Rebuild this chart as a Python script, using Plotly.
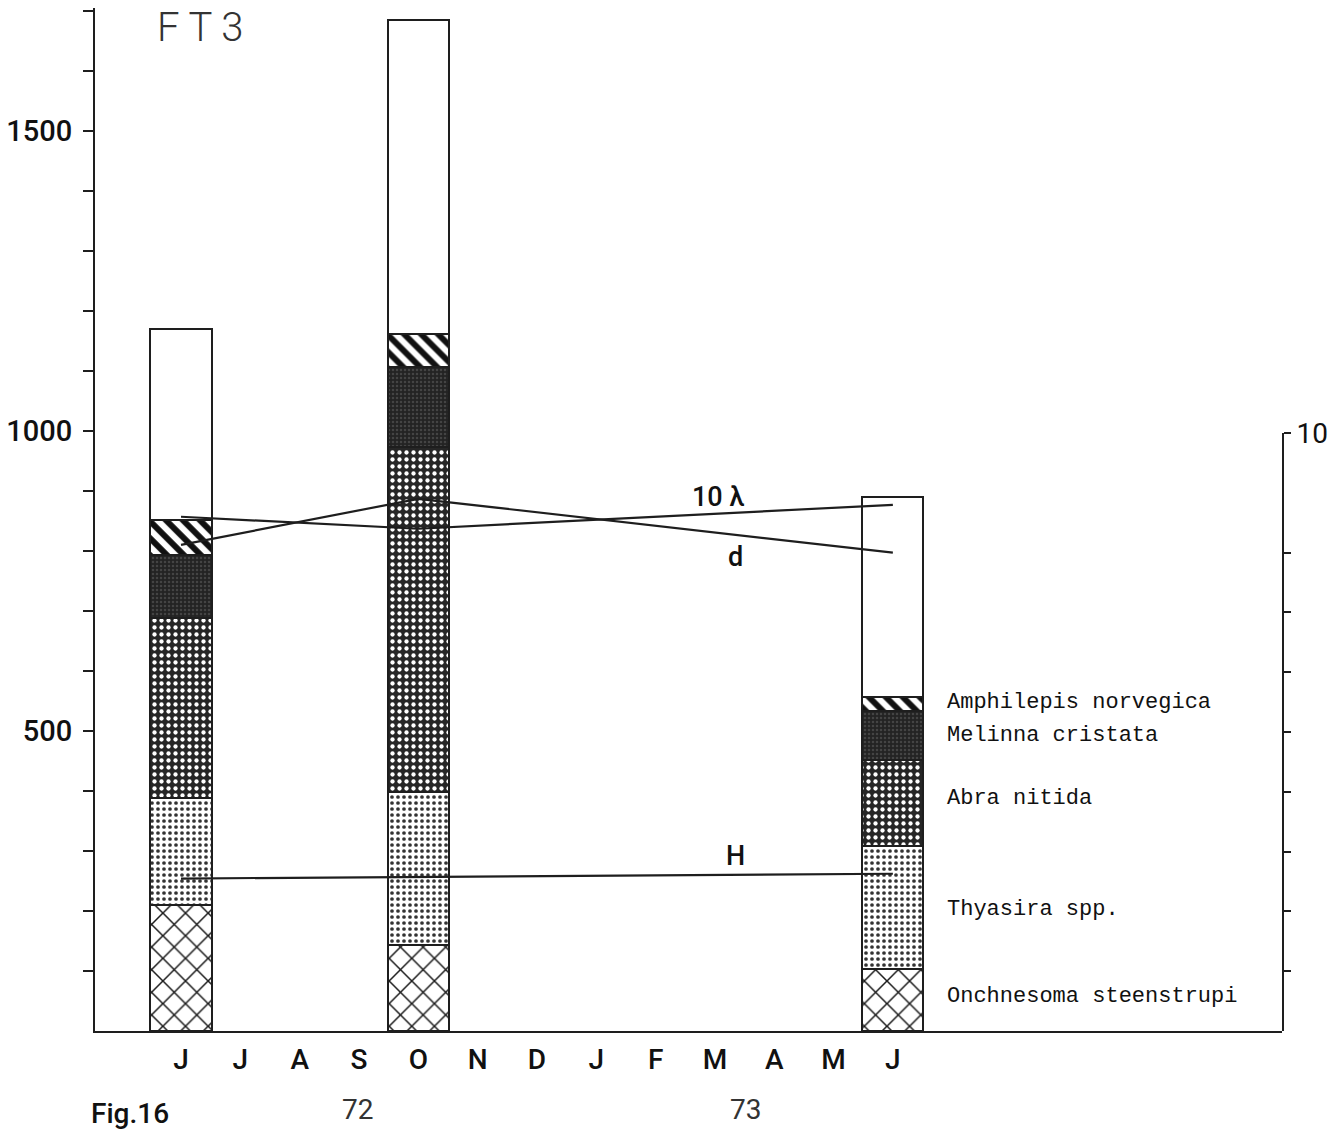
import plotly.graph_objects as go

# ---------------- data ----------------
months = ["J", "J", "A", "S", "O", "N", "D", "J", "F", "M", "A", "M", "J"]
sample_pos = [0, 4, 12]          # month index (0 = June 72)
species = ["Onchnesoma steenstrupi", "Thyasira spp.", "Abra nitida",
           "Melinna cristata", "Amphilepis norvegica", "Others"]
onchnesoma = [210, 143, 103]
thyasira = [178, 255, 205]
abra = [300, 575, 144]
melinna = [105, 134, 81]
amphilepis = [59, 55, 24]
others = [318, 523, 333]

lambda10 = [8.6, 8.4, 8.8]
d_index = [8.13, 8.9, 8.0]
h_index = [2.55, 2.58, 2.63]

left_ticks = [100 * i for i in range(1, 18)]
left_labels = ["1500" if v == 1500 else "1000" if v == 1000 else "500" if v == 500 else "" for v in left_ticks]
right_ticks = [1, 2, 3, 4, 5, 6, 7, 8, 10]
right_labels = ["", "", "", "", "", "", "", "", "10"]

# ---------------- styles ----------------
INK = "#1e1e1e"
patterns = [
    dict(shape="x", bgcolor="white", fgcolor="#1a1a1a", fgopacity=1, size=16, solidity=0.18),
    dict(shape=".", bgcolor="white", fgcolor="#333333", fgopacity=1, size=6, solidity=0.3),
    dict(shape=".", bgcolor="#262626", fgcolor="white", fgopacity=1, size=7, solidity=0.3),
    dict(shape=".", bgcolor="#232323", fgcolor="#444444", fgopacity=1, size=4, solidity=0.3),
    dict(shape="\\", bgcolor="white", fgcolor="#111111", fgopacity=1, size=12, solidity=0.5),
    dict(shape="", bgcolor="white", fgcolor="white"),
]
series = [onchnesoma, thyasira, abra, melinna, amphilepis, others]

fig = go.Figure()
for name, vals, pat in zip(species, series, patterns):
    fig.add_trace(go.Bar(
        x=sample_pos, y=vals, name=name, width=1.03,
        marker=dict(color="white", pattern=pat, line=dict(color=INK, width=2)),
        showlegend=False, xaxis="x", yaxis="y",
    ))

for vals in (lambda10, d_index, h_index):
    fig.add_trace(go.Scatter(
        x=sample_pos, y=vals, mode="lines",
        line=dict(color=INK, width=2.2), showlegend=False,
        xaxis="x", yaxis="y2",
    ))

SANS = "Roboto, Liberation Sans, sans-serif"
MONO = "Liberation Mono, Courier New, monospace"

fig.update_layout(
    width=1340, height=1136,
    margin=dict(l=95, r=58, t=8, b=105, autoexpand=False),
    paper_bgcolor="white", plot_bgcolor="rgba(0,0,0,0)",
    barmode="stack", bargap=0,
    xaxis=dict(
        range=[-1.45, 18.56], tickvals=list(range(13)), ticktext=months,
        showgrid=False, zeroline=False, showline=True, linecolor=INK, linewidth=2,
        ticks="", tickfont=dict(family=SANS, size=28, color="#111", weight=500),
        ticklabelstandoff=2, anchor="y", automargin=False,
    ),
    yaxis=dict(
        range=[0, 1705], tickvals=left_ticks, ticktext=left_labels,
        showgrid=False, zeroline=False, showline=True, linecolor=INK, linewidth=2,
        ticks="outside", ticklen=10, tickwidth=2, tickcolor=INK,
        tickfont=dict(family=SANS, size=29, color="#111", weight=500),
        ticklabelstandoff=5, anchor="x", automargin=False,
    ),
    yaxis2=dict(
        domain=[0, 0.5845], range=[0, 10], side="right", anchor="x",
        tickvals=right_ticks, ticktext=right_labels,
        showgrid=False, zeroline=False, showline=True, linecolor=INK, linewidth=2,
        ticks="outside", ticklen=7, tickwidth=2, tickcolor=INK,
        tickfont=dict(family=SANS, size=28, color="#111"),
        ticklabelstandoff=0, automargin=False,
    ),
)

annotations = [
    dict(text="F T 3", xref="paper", yref="paper", x=0.0505, y=0.981,
         xanchor="left", yanchor="middle", showarrow=False,
         font=dict(family=SANS, size=40, color="#333", weight=300)),
    dict(text="Fig.16", xref="paper", yref="paper", x=-0.005, y=-0.081,
         xanchor="left", yanchor="middle", showarrow=False,
         font=dict(family=SANS, size=28, color="#111", weight=500)),
    dict(text="72", xref="x", yref="paper", x=2.98, y=-0.077,
         xanchor="center", yanchor="middle", showarrow=False,
         font=dict(family=SANS, size=28, color="#333")),
    dict(text="73", xref="x", yref="paper", x=9.52, y=-0.077,
         xanchor="center", yanchor="middle", showarrow=False,
         font=dict(family=SANS, size=28, color="#333")),
    dict(text="10 λ", xref="x", yref="y2", x=9.05, y=8.93,
         xanchor="center", yanchor="middle", showarrow=False,
         font=dict(family=SANS, size=27, color="#111", weight=500)),
    dict(text="d", xref="x", yref="y2", x=9.34, y=7.92,
         xanchor="center", yanchor="middle", showarrow=False,
         font=dict(family=SANS, size=27, color="#111", weight=500)),
    dict(text="H", xref="x", yref="y2", x=9.34, y=2.93,
         xanchor="center", yanchor="middle", showarrow=False,
         font=dict(family=SANS, size=27, color="#111", weight=500)),
]
legend_y = [548, 493, 387, 202, 57]
legend_names = ["Amphilepis norvegica", "Melinna cristata", "Abra nitida",
                "Thyasira spp.", "Onchnesoma steenstrupi"]
for nm, yy in zip(legend_names, legend_y):
    annotations.append(dict(text=nm, xref="x", yref="y", x=12.88, y=yy,
                            xanchor="left", yanchor="middle", showarrow=False,
                            font=dict(family=MONO, size=22, color="#111")))
fig.update_layout(annotations=annotations)

fig.write_html("out.html")
